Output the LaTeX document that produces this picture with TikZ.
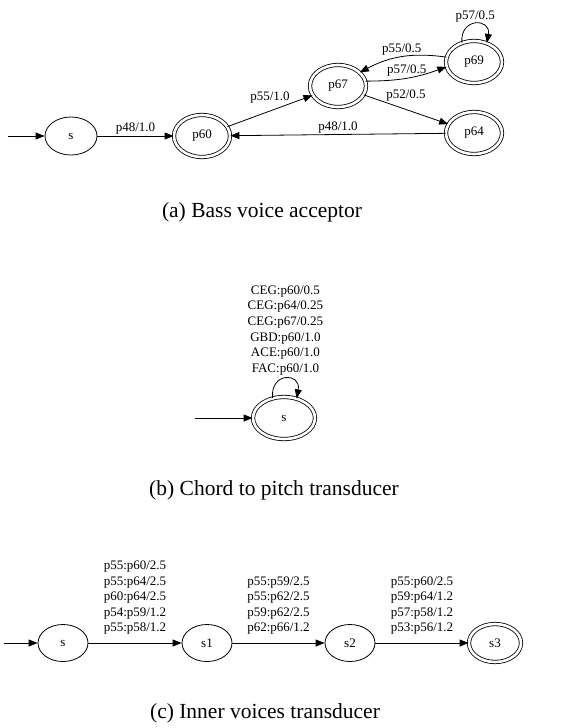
\documentclass[tikz,border=0pt]{standalone}
\usepackage{fontspec}
\setmainfont{Liberation Serif}
\usetikzlibrary{positioning,arrows.meta,shapes.geometric}

\begin{document}
\begin{tikzpicture}[x=1pt, y=1pt, >={Triangle[length=9pt,width=7pt]},
    state/.style={ellipse, draw, line width=0.8pt, inner sep=0pt,
        minimum width=52pt, minimum height=38pt, font=\fontsize{13}{15.6}\selectfont},
    accept/.style={state, double, double distance=2.6pt,
        minimum width=56pt, minimum height=42pt},
    trans/.style={->, line width=0.8pt},
    lbl/.style={font=\fontsize{13}{15.6}\selectfont, inner sep=1pt, align=center},
    caption/.style={font=\fontsize{21.5}{24}\selectfont}]
    \useasboundingbox (0,0) rectangle (576,-728);

    % (a) Bass voice acceptor
    \coordinate (a-in) at (8,-136);
    \node[state]  (a-s)   at (71,-136)  {s};
    \node[accept] (a-p60) at (202,-136) {p60};
    \node[accept] (a-p67) at (338,-86)  {p67};
    \node[accept] (a-p69) at (474,-62)  {p69};
    \node[accept] (a-p64) at (474,-133) {p64};

    \draw[trans] (a-in) -- (a-s);
    \draw[trans] (a-s) -- node[lbl, above] {p48/1.0} (a-p60);
    \draw[trans] (a-p60) -- node[lbl, above=6pt] {p55/1.0} (a-p67);
    \draw[trans] (a-p67.10) to[bend right=10] node[lbl, above] {p57/0.5} (a-p69.190);
    \draw[trans] (a-p69.170) to[bend right=18] node[lbl, above] {p55/0.5} (a-p67.32);
    \draw[trans] (a-p67) -- node[lbl, above=7pt] {p52/0.5} (a-p64);
    \draw[trans] (a-p64) -- node[lbl, above] {p48/1.0} (a-p60);
    \draw[trans] (a-p69.122) to[out=95, in=80, looseness=2.6]
        node[lbl, above] {p57/0.5} (a-p69.56);

    \node[caption] (a-cap) at (262,-212) {(a) Bass voice acceptor};

    % (b) Chord to pitch transducer
    \coordinate (b-in) at (195,-418);
    \node[accept, minimum width=62pt, minimum height=42pt] (b-s) at (284,-418) {s};

    \draw[trans] (b-in) -- (b-s);
    \draw[trans] (b-s.120) to[out=95, in=80, looseness=2.8]
        node[lbl, above=2pt] {CEG:p60/0.5\\CEG:p64/0.25\\CEG:p67/0.25\\GBD:p60/1.0\\ACE:p60/1.0\\FAC:p60/1.0} (b-s.57);

    \node[caption] (b-cap) at (274,-490) {(b) Chord to pitch transducer};

    % (c) Inner voices transducer
    \coordinate (c-in) at (4,-643);
    \node[state, minimum width=50pt, minimum height=37pt]  (c-s)  at (63,-643)  {s};
    \node[state, minimum width=50pt, minimum height=37pt]  (c-s1) at (207,-643) {s1};
    \node[state, minimum width=50pt, minimum height=37pt]  (c-s2) at (350,-643) {s2};
    \node[accept, minimum width=52pt, minimum height=38pt] (c-s3) at (495,-643) {s3};

    \draw[trans] (c-in) -- (c-s);
    \draw[trans] (c-s) -- node[lbl, above=7pt]
        {p55:p60/2.5\\p55:p64/2.5\\p60:p64/2.5\\p54:p59/1.2\\p55:p58/1.2} (c-s1);
    \draw[trans] (c-s1) -- node[lbl, above=7pt]
        {p55:p59/2.5\\p55:p62/2.5\\p59:p62/2.5\\p62:p66/1.2} (c-s2);
    \draw[trans] (c-s2) -- node[lbl, above=7pt]
        {p55:p60/2.5\\p59:p64/1.2\\p57:p58/1.2\\p53:p56/1.2} (c-s3);

    \node[caption] (c-cap) at (265,-713) {(c) Inner voices transducer};
\end{tikzpicture}
\end{document}
